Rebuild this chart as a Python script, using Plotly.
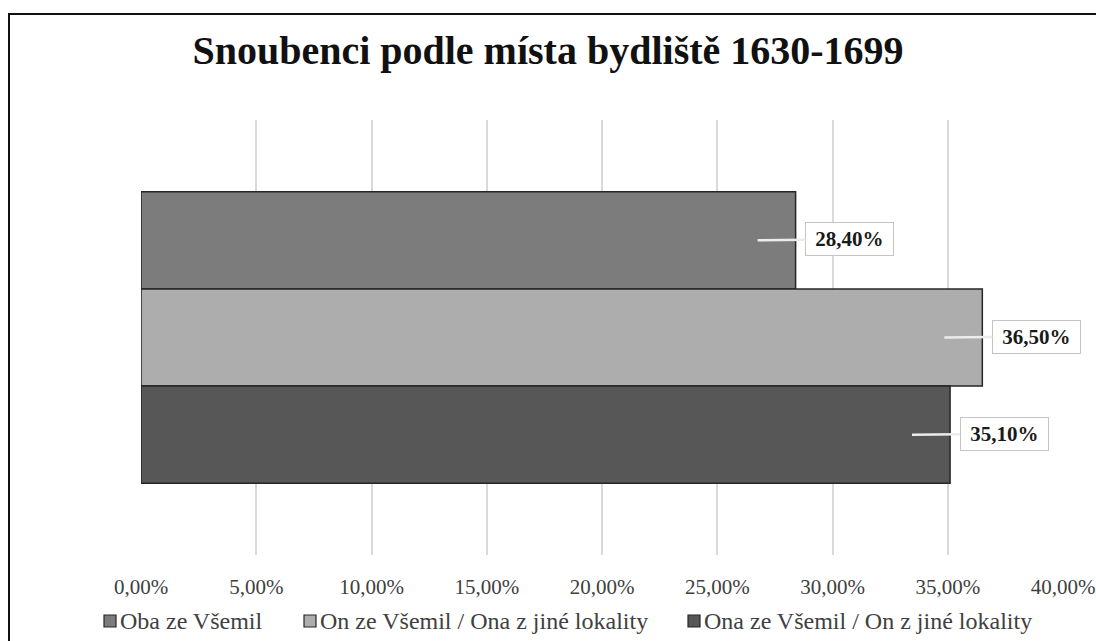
import plotly.graph_objs as go

# data
series_names = ['Oba ze Všemil', 'On ze Všemil / Ona z jiné lokality', 'Ona ze Všemil / On z jiné lokality']
series_values = [28.4, 36.5, 35.1]
bar_colors = ['#7c7c7c', '#adadad', '#575757']
tick_values = [0, 5, 10, 15, 20, 25, 30, 35, 40]
tick_labels = ['0,00%', '5,00%', '10,00%', '15,00%', '20,00%', '25,00%', '30,00%', '35,00%', '40,00%']
category = ['1630-1699']

serif = 'Liberation Serif'
bargap = 0.33
L, R, T, B = 141, 33, 120, 86
pw, ph = 1096 - L - R, 641 - T - B

def px_x(p):
    return (p - L) / pw

def px_y(p):
    return (ph + T - p) / ph

fig = go.Figure()
for name, val, col in zip(series_names, series_values, bar_colors):
    fig.add_trace(go.Bar(name=name, x=[val], y=category, orientation='h', showlegend=False,
                         marker=dict(color=col, line=dict(color='#262626', width=1.5))))

# data labels with callout lines
w = (1 - bargap) / len(series_values)
for i, val in enumerate(series_values):
    ypos = -(1 - bargap) / 2 + (i + 0.5) * w
    fig.add_annotation(x=val - 1.65, y=ypos, xref='x', yref='y',
                       text='&nbsp;<b>' + f'{val:.2f}'.replace('.', ',') + '%</b>&nbsp;',
                       showarrow=True, arrowhead=0, arrowwidth=2.5, arrowcolor='#ececec',
                       ax=92, ay=-1, bgcolor='white', bordercolor='#c4c4c4', borderwidth=1,
                       borderpad=4, font=dict(family=serif, size=21, color='#1a1a1a'))

# legend drawn by hand (plotly's own legend pushes the margins)
legend_text_x = [118, 318, 702]
legend_y = 621
for name, col, lx in zip(series_names, bar_colors, legend_text_x):
    fig.add_shape(type='rect', xref='paper', yref='paper',
                  x0=px_x(lx - 14), x1=px_x(lx - 2), y0=px_y(legend_y + 6), y1=px_y(legend_y - 6),
                  line=dict(color='#262626', width=1.2), fillcolor=col)
    fig.add_annotation(x=px_x(lx), y=px_y(legend_y), xref='paper', yref='paper',
                       xanchor='left', yanchor='middle', showarrow=False, text=name,
                       font=dict(family=serif, size=24, color='#404040'))

# outer frame
fig.add_shape(type='rect', xref='paper', yref='paper',
              x0=px_x(9), x1=px_x(1110), y0=px_y(660), y1=px_y(14),
              line=dict(color='#111111', width=2), fillcolor='rgba(0,0,0,0)', layer='below')

fig.update_layout(
    width=1096, height=641,
    barmode='group', bargap=bargap, bargroupgap=0,
    paper_bgcolor='white', plot_bgcolor='white',
    margin=dict(l=L, r=R, t=T, b=B),
    showlegend=False,
    title=dict(text='<b>Snoubenci podle místa bydliště 1630-1699</b>', x=0.5, xanchor='center',
               y=1 - 50 / 641, yanchor='middle',
               font=dict(family=serif, size=40, color='#111111')),
    xaxis=dict(range=[0, 40], tickvals=tick_values, ticktext=tick_labels, automargin=False,
               showgrid=True, gridcolor='#d9d9d9', gridwidth=1.5, zeroline=False,
               showline=False, ticks='', ticklabelstandoff=17,
               tickfont=dict(family=serif, size=21, color='#404040')),
    yaxis=dict(range=[0.5, -0.5], showticklabels=False, showgrid=False, zeroline=False,
               showline=False, automargin=False),
)

fig.write_html("out.html", post_script="document.body.style.margin='0';",
               config={'displayModeBar': False})
